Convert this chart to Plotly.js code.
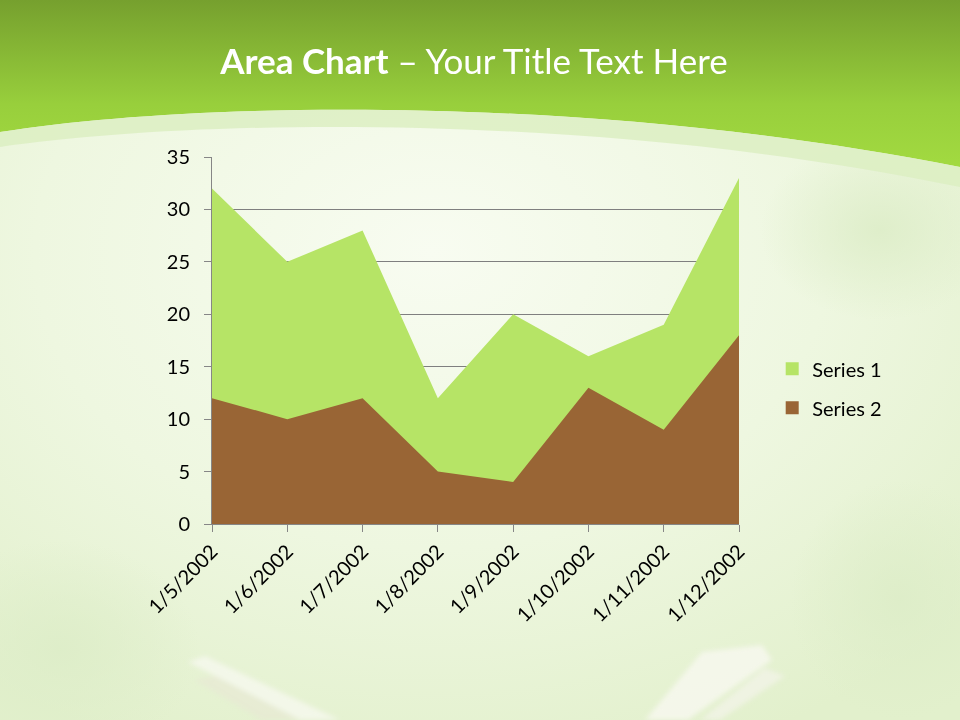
<!DOCTYPE html>
<html>
<head>
<meta charset="utf-8">
<script src="https://cdn.plot.ly/plotly-3.0.1.min.js"></script>
<style>
  html, body { margin: 0; padding: 0; width: 960px; height: 720px; overflow: hidden; }
  #wrap { position: relative; width: 960px; height: 720px; }
  #bg { position: absolute; left: 0; top: 0; }
  #chart { position: absolute; left: 0; top: 0; width: 960px; height: 720px; }
</style>
</head>
<body>
<div id="wrap">
<svg id="bg" width="960" height="720" xmlns="http://www.w3.org/2000/svg">
  <defs>
    <radialGradient id="body" cx="0.45" cy="0.35" r="0.75">
      <stop offset="0" stop-color="#F8FCF1"/>
      <stop offset="0.55" stop-color="#EEF7E0"/>
      <stop offset="1" stop-color="#E2F0CC"/>
    </radialGradient>
    <linearGradient id="head" x1="0" y1="0" x2="0" y2="1">
      <stop offset="0" stop-color="#76A02E"/>
      <stop offset="0.55" stop-color="#98CF3C"/>
      <stop offset="1" stop-color="#A6DE42"/>
    </linearGradient>
    <radialGradient id="blob" cx="0.5" cy="0.5" r="0.5">
      <stop offset="0" stop-color="#DDEDC8" stop-opacity="0.9"/>
      <stop offset="1" stop-color="#DDEDC8" stop-opacity="0"/>
    </radialGradient>
    <filter id="soft" x="-20%" y="-20%" width="140%" height="140%">
      <feGaussianBlur stdDeviation="2.5"/>
    </filter>
  </defs>
  <rect x="0" y="0" width="960" height="720" fill="url(#body)"/>
  <ellipse cx="880" cy="230" rx="120" ry="90" fill="url(#blob)"/>
  <ellipse cx="60" cy="650" rx="140" ry="110" fill="url(#blob)"/>
  <ellipse cx="900" cy="600" rx="110" ry="120" fill="url(#blob)"/>
  <path d="M0,0 H960 V190 L960,167 C600,95 200,100 0,132 Z" fill="url(#head)"/>
  <path d="M0,132 C200,100 600,95 960,167 L960,187 C600,112 200,118 0,147 Z" fill="#DCEFC2" opacity="0.85"/>
  <g filter="url(#soft)">
    <path d="M188,662 L205,656 L340,720 L300,720 Z" fill="#F7F8F0" opacity="0.75"/>
    <path d="M195,680 L215,676 L300,720 L262,720 Z" fill="#E9E6D6" opacity="0.5"/>
    <path d="M702,652 L762,645 L772,660 L688,720 L645,720 Z" fill="#F8F8F0" opacity="0.8"/>
    <path d="M765,668 L785,676 L720,720 L700,720 Z" fill="#F3F3EA" opacity="0.7"/>
  </g>
</svg>
<div id="chart"></div>
</div>
<script>
const categories = ["1/5/2002", "1/6/2002", "1/7/2002", "1/8/2002", "1/9/2002", "1/10/2002", "1/11/2002", "1/12/2002"];
const series1 = [32, 25, 28, 12, 20, 16, 19, 33];
const series2 = [12, 10, 12, 5, 4, 13, 9, 18];
const seriesNames = ["Series 1", "Series 2"];
const colors = ["#B6E466", "#996535"];

const font = "Lato, 'Open Sans', sans-serif";

const traces = [
  { type: "scatter", x: categories, y: series1, mode: "none", fill: "tozeroy",
    fillcolor: colors[0], showlegend: false, hoverinfo: "skip" },
  { type: "scatter", x: categories, y: series2, mode: "none", fill: "tozeroy",
    fillcolor: colors[1], showlegend: false, hoverinfo: "skip" },
  { type: "scatter", x: [null], y: [null], mode: "markers", name: seriesNames[0],
    legendgroup: "a", marker: { symbol: "square", size: 13, color: colors[0] } },
  { type: "scatter", x: [null], y: [null], mode: "markers", name: seriesNames[1],
    legendgroup: "b", marker: { symbol: "square", size: 13, color: colors[1] } }
];

const layout = {
  width: 960, height: 720,
  margin: { l: 212, r: 221, t: 157, b: 196 },
  paper_bgcolor: "rgba(0,0,0,0)",
  plot_bgcolor: "rgba(0,0,0,0)",
  font: { family: font, size: 20, color: "#000000" },
  title: {
    text: "<b>Area Chart</b> – Your Title Text Here",
    font: { family: font, size: 35, color: "#FFFFFF" },
    x: 0.497, xref: "paper", xanchor: "center",
    y: 1 - 62 / 720, yref: "container", yanchor: "middle"
  },
  xaxis: {
    type: "category", range: [0, 7], tickangle: -45,
    showline: true, linecolor: "#868686", linewidth: 1,
    ticks: "outside", ticklen: 7, tickcolor: "#868686",
    showgrid: false, zeroline: false,
    tickfont: { family: font, size: 20, color: "#000" }
  },
  yaxis: {
    range: [0, 35], dtick: 5, tick0: 0,
    showline: true, linecolor: "#868686", linewidth: 1,
    ticks: "outside", ticklen: 7, tickcolor: "#868686",
    showgrid: true, gridcolor: "#7F7F7F", gridwidth: 1,
    zeroline: false, ticklabelstandoff: 10,
    tickfont: { family: font, size: 20, color: "#000" }
  },
  showlegend: true,
  legend: {
    x: 1.063, xanchor: "left", y: 0.37, yanchor: "middle",
    bgcolor: "rgba(0,0,0,0)", tracegroupgap: 10,
    font: { family: font, size: 20, color: "#000" },
    itemwidth: 30
  },
  hovermode: false
};

Plotly.newPlot("chart", traces, layout, { displayModeBar: false, staticPlot: true });
</script>
</body>
</html>
